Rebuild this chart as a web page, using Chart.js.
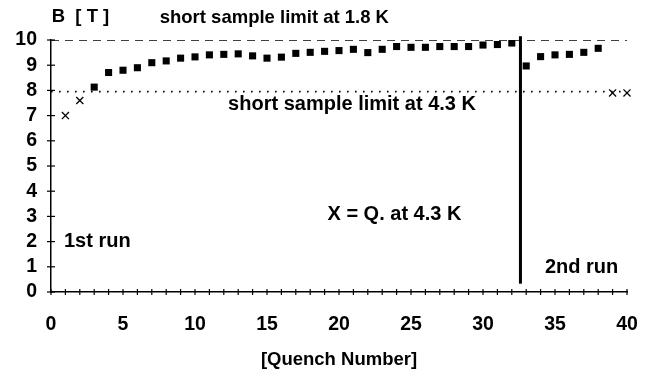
<!DOCTYPE html>
<html>
<head>
<meta charset="utf-8">
<script src="https://cdn.jsdelivr.net/npm/chart.js@4"></script>
<style>
  html, body { margin: 0; padding: 0; background: #fff; }
  #quenchChart { display: block; }
</style>
</head>
<body>
<canvas id="quenchChart" width="648" height="374"></canvas>
<script>
// quench training data
const run1Quench = [3, 4, 5, 6, 7, 8, 9, 10, 11, 12, 13, 14, 15, 16, 17, 18, 19, 20, 21, 22, 23, 24, 25, 26, 27, 28, 29, 30, 31, 32];
const run1Field = [8.13, 8.71, 8.80, 8.90, 9.10, 9.17, 9.28, 9.33, 9.41, 9.43, 9.45, 9.37, 9.28, 9.32, 9.47, 9.51, 9.55, 9.58, 9.63, 9.50, 9.63, 9.74, 9.71, 9.71, 9.74, 9.74, 9.74, 9.80, 9.82, 9.88];
const run2Quench = [33, 34, 35, 36, 37, 38];
const run2Field = [8.97, 9.34, 9.41, 9.43, 9.51, 9.67];
const q43Quench = [1, 2, 39, 40];
const q43Field = [7.00, 7.60, 7.90, 7.90];
const limit18 = 10;
const limit43 = 7.95;
const runBreak = 32.6;
const breakSpan = [0.33, 10.15];
const xTicks = [0, 5, 10, 15, 20, 25, 30, 35, 40];
const yTicks = [0, 1, 2, 3, 4, 5, 6, 7, 8, 9, 10];

// text notes in data coordinates (left edge, vertical middle)
const notes = [
    { text: 'B  [ T ]', x: 0.05, y: 10.9, size: 18.5 },
    { text: 'short sample limit at 1.8 K', x: 7.55, y: 10.88, size: 18.5 },
    { text: 'short sample limit at 4.3 K', x: 12.3, y: 7.45, size: 20 },
    { text: 'X = Q. at 4.3 K', x: 19.2, y: 3.07, size: 20 },
    { text: '1st run', x: 0.9, y: 2.02, size: 20 },
    { text: '2nd run', x: 34.3, y: 0.98, size: 20 }
];

document.addEventListener('DOMContentLoaded', function() {
    const FONT = 'Liberation Sans, Arial, sans-serif';

    function pts(xs, ys) {
        return xs.map((x, i) => ({ x: x, y: ys[i] }));
    }

    // small ticks crossing both axes, plus the text notes
    const extras = {
        id: 'extras',
        afterDraw(chart) {
            const ctx = chart.ctx;
            const xs = chart.scales.x;
            const ys = chart.scales.y;
            ctx.save();
            ctx.strokeStyle = '#000';
            ctx.lineWidth = 1.2;
            for (let v = xs.min; v <= xs.max; v++) {
                const px = xs.getPixelForValue(v);
                ctx.beginPath();
                ctx.moveTo(px, ys.bottom - 3);
                ctx.lineTo(px, ys.bottom + 3);
                ctx.stroke();
            }
            yTicks.forEach(v => {
                const py = ys.getPixelForValue(v);
                ctx.beginPath();
                ctx.moveTo(xs.left - 4, py);
                ctx.lineTo(xs.left + 4, py);
                ctx.stroke();
            });
            ctx.fillStyle = '#000';
            ctx.textBaseline = 'middle';
            ctx.textAlign = 'left';
            notes.forEach(n => {
                ctx.font = 'bold ' + n.size + 'px ' + FONT;
                ctx.fillText(n.text, xs.getPixelForValue(n.x), ys.getPixelForValue(n.y));
            });
            ctx.restore();
        }
    };

    const ctx = document.getElementById('quenchChart').getContext('2d');
    new Chart(ctx, {
        type: 'scatter',
        data: {
            datasets: [
                {
                    type: 'line',
                    data: [{ x: 0, y: limit18 }, { x: 40, y: limit18 }],
                    borderColor: '#000',
                    borderWidth: 1.3,
                    borderDash: [8, 6],
                    pointRadius: 0
                },
                {
                    type: 'line',
                    data: [{ x: 0, y: limit43 }, { x: 40, y: limit43 }],
                    borderColor: '#000',
                    borderWidth: 1.6,
                    borderDash: [1.6, 6.4],
                    pointRadius: 0
                },
                {
                    type: 'line',
                    data: [{ x: runBreak, y: breakSpan[0] }, { x: runBreak, y: breakSpan[1] }],
                    borderColor: '#000',
                    borderWidth: 3,
                    pointRadius: 0,
                    clip: false
                },
                {
                    data: pts(run1Quench, run1Field),
                    pointStyle: 'rect',
                    pointRadius: 5,
                    backgroundColor: '#000',
                    borderColor: '#000',
                    borderWidth: 0
                },
                {
                    data: pts(run2Quench, run2Field),
                    pointStyle: 'rect',
                    pointRadius: 5,
                    backgroundColor: '#000',
                    borderColor: '#000',
                    borderWidth: 0
                },
                {
                    data: pts(q43Quench, q43Field),
                    pointStyle: 'crossRot',
                    pointRadius: 5,
                    borderColor: '#000',
                    borderWidth: 1.3,
                    clip: false
                }
            ]
        },
        options: {
            responsive: false,
            devicePixelRatio: 1,
            animation: false,
            layout: { padding: { left: 0, right: 21, top: 40, bottom: 0 } },
            plugins: {
                legend: { display: false },
                tooltip: { enabled: false }
            },
            scales: {
                x: {
                    type: 'linear',
                    min: 0,
                    max: 40,
                    afterBuildTicks: function(scale) {
                        scale.ticks = xTicks.map(v => ({ value: v }));
                    },
                    afterFit: function(scale) { scale.height = 82; },
                    // tick marks drawn by the plugin; tickLength only pushes labels down
                    grid: { display: false, drawTicks: true, tickLength: 21 },
                    border: { display: true, color: '#000', width: 1.5 },
                    ticks: {
                        color: '#000',
                        padding: 0,
                        maxRotation: 0,
                        autoSkip: false,
                        font: { family: FONT, size: 19.5, weight: 'bold' }
                    },
                    title: {
                        display: true,
                        text: '[Quench Number]',
                        color: '#000',
                        padding: { top: 0, bottom: 3 },
                        font: { family: FONT, size: 18.5, weight: 'bold' }
                    }
                },
                y: {
                    type: 'linear',
                    min: 0,
                    max: 10,
                    afterBuildTicks: function(scale) {
                        scale.ticks = yTicks.map(v => ({ value: v }));
                    },
                    afterFit: function(scale) { scale.width = 51; },
                    grid: { display: false, drawTicks: false },
                    border: { display: true, color: '#000', width: 1.5 },
                    ticks: {
                        color: '#000',
                        padding: 14,
                        autoSkip: false,
                        font: { family: FONT, size: 19.5, weight: 'bold' }
                    }
                }
            }
        },
        plugins: [extras]
    });
});
</script>
</body>
</html>
